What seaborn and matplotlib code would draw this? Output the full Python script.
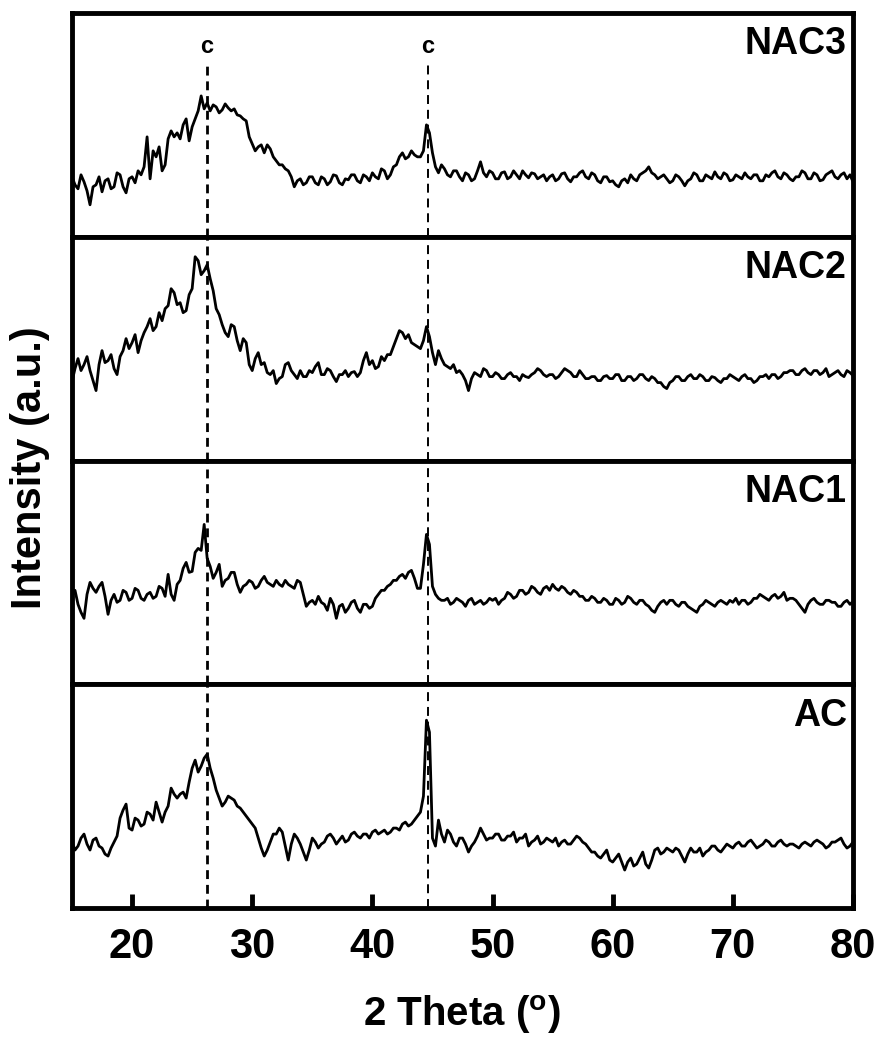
import numpy as np
import pandas as pd
import matplotlib
matplotlib.use("Agg")
import matplotlib.pyplot as plt
import seaborn as sns

# 2 theta scan grid (deg), 0.25 deg step
theta = np.linspace(15, 80, 261)

# intensities (a.u., one row = 2.5 deg)
nac3 = [60, 52, 48, 62, 55, 46, 32, 50, 52, 60,
        45, 56, 58, 48, 50, 64, 62, 50, 44, 58,
        60, 54, 66, 62, 70, 100, 58, 86, 80, 90,
        66, 72, 98, 106, 100, 104, 98, 112, 118, 96,
        110, 118, 126, 141, 128, 134, 126, 132, 130, 124,
        127, 133, 129, 126, 128, 122, 121, 118, 116, 100,
        93, 86, 90, 92, 84, 92, 88, 80, 76, 72,
        72, 68, 66, 60, 50, 56, 58, 52, 54, 60,
        60, 54, 52, 60, 58, 52, 55, 62, 61, 54,
        52, 58, 57, 62, 62, 56, 54, 62, 60, 56,
        64, 60, 58, 68, 66, 58, 62, 70, 72, 80,
        84, 78, 80, 86, 82, 80, 80, 86, 112, 104,
        84, 70, 64, 72, 68, 62, 60, 66, 66, 60,
        56, 64, 62, 56, 58, 66, 75, 64, 60, 66,
        64, 58, 58, 64, 65, 58, 60, 66, 62, 58,
        66, 62, 59, 64, 63, 58, 60, 62, 56, 60,
        62, 56, 58, 63, 64, 58, 55, 60, 60, 64,
        66, 60, 58, 64, 62, 56, 54, 60, 60, 55,
        56, 52, 50, 56, 58, 54, 62, 58, 56, 62,
        64, 66, 70, 64, 62, 58, 60, 62, 58, 54,
        56, 62, 60, 56, 51, 56, 58, 64, 62, 56,
        56, 62, 60, 58, 65, 60, 58, 64, 62, 56,
        57, 62, 60, 58, 64, 60, 58, 62, 62, 56,
        56, 62, 60, 64, 66, 60, 58, 64, 62, 58,
        56, 60, 60, 66, 64, 58, 58, 64, 62, 56,
        57, 62, 64, 66, 60, 58, 62, 64, 58, 62,
        55]

nac2 = [79, 92, 102, 90, 96, 104, 90, 80, 70, 96,
        110, 98, 100, 106, 92, 86, 104, 110, 122, 112,
        118, 126, 108, 120, 128, 134, 142, 130, 134, 148,
        140, 152, 155, 172, 168, 156, 158, 148, 150, 166,
        172, 204, 200, 186, 190, 196, 182, 170, 152, 146,
        136, 128, 124, 136, 134, 120, 110, 122, 118, 96,
        90, 102, 108, 96, 98, 88, 86, 90, 77, 82,
        84, 96, 98, 90, 86, 82, 90, 84, 84, 90,
        88, 94, 98, 86, 86, 92, 90, 84, 79, 86,
        86, 90, 84, 88, 89, 84, 88, 100, 108, 96,
        100, 92, 94, 104, 100, 106, 106, 114, 122, 130,
        128, 122, 126, 118, 116, 114, 112, 120, 134, 124,
        108, 96, 110, 102, 96, 94, 92, 96, 88, 90,
        86, 80, 70, 82, 88, 86, 84, 92, 90, 84,
        84, 88, 86, 82, 82, 86, 88, 84, 84, 80,
        86, 84, 83, 86, 88, 92, 90, 86, 84, 86,
        86, 82, 84, 88, 92, 90, 88, 84, 84, 90,
        86, 82, 82, 84, 84, 80, 80, 84, 85, 82,
        82, 86, 86, 80, 80, 84, 84, 80, 82, 86,
        86, 82, 80, 84, 82, 78, 78, 74, 72, 78,
        80, 84, 84, 80, 80, 84, 86, 82, 82, 86,
        84, 80, 80, 84, 83, 80, 78, 82, 82, 86,
        84, 82, 80, 84, 86, 82, 82, 78, 80, 84,
        84, 86, 82, 86, 86, 82, 84, 88, 88, 90,
        90, 86, 86, 90, 92, 88, 86, 90, 90, 86,
        88, 92, 84, 86, 88, 90, 86, 84, 90, 88,
        85]

nac1 = [88, 94, 80, 72, 66, 90, 102, 96, 92, 98,
        102, 88, 70, 84, 90, 82, 84, 94, 92, 84,
        86, 96, 94, 86, 84, 90, 92, 86, 88, 98,
        96, 88, 110, 90, 84, 100, 104, 116, 122, 112,
        113, 132, 136, 134, 160, 126, 118, 106, 112, 120,
        98, 104, 106, 112, 112, 100, 92, 98, 100, 104,
        102, 96, 98, 104, 108, 102, 100, 98, 104, 100,
        98, 104, 100, 98, 96, 104, 102, 90, 78, 82,
        84, 80, 88, 82, 80, 74, 86, 80, 66, 78,
        80, 72, 76, 82, 84, 76, 72, 80, 80, 76,
        78, 86, 90, 94, 94, 98, 100, 104, 104, 108,
        110, 106, 112, 114, 106, 96, 96, 120, 150, 140,
        98, 90, 86, 84, 84, 86, 80, 82, 86, 84,
        82, 78, 84, 86, 80, 82, 84, 80, 82, 86,
        84, 86, 80, 84, 86, 92, 90, 86, 88, 94,
        94, 90, 92, 98, 96, 92, 90, 96, 98, 94,
        100, 96, 94, 98, 96, 92, 90, 94, 92, 88,
        88, 84, 84, 88, 86, 82, 82, 86, 84, 80,
        80, 86, 84, 80, 82, 88, 86, 82, 80, 84,
        84, 80, 78, 74, 72, 78, 82, 84, 80, 84,
        84, 80, 78, 82, 82, 78, 76, 74, 72, 78,
        80, 84, 82, 80, 78, 82, 84, 82, 80, 84,
        82, 86, 80, 84, 84, 80, 82, 86, 86, 90,
        88, 86, 84, 88, 90, 86, 88, 92, 84, 86,
        86, 84, 80, 76, 72, 80, 84, 86, 82, 80,
        80, 84, 84, 82, 82, 78, 78, 82, 84, 80,
        83]

ac = [66, 58, 62, 70, 74, 64, 58, 68, 70, 62,
      60, 54, 52, 60, 66, 72, 90, 98, 104, 80,
      78, 90, 88, 82, 84, 96, 94, 88, 106, 96,
      86, 96, 102, 120, 114, 110, 114, 116, 110, 126,
      140, 148, 136, 142, 150, 154, 140, 130, 118, 110,
      102, 106, 112, 110, 108, 102, 100, 96, 92, 88,
      84, 80, 70, 60, 52, 58, 66, 74, 74, 80,
      76, 62, 48, 64, 74, 70, 64, 56, 48, 58,
      70, 66, 60, 64, 66, 72, 74, 70, 64, 68,
      72, 66, 68, 74, 76, 72, 70, 74, 74, 70,
      76, 78, 74, 76, 78, 74, 76, 80, 80, 78,
      84, 86, 82, 84, 88, 92, 96, 112, 188, 176,
      70, 62, 88, 74, 66, 78, 74, 66, 62, 70,
      70, 64, 56, 62, 66, 72, 80, 74, 68, 70,
      70, 74, 74, 68, 68, 72, 72, 76, 66, 70,
      70, 74, 62, 66, 68, 72, 64, 66, 70, 68,
      66, 70, 62, 66, 68, 64, 64, 68, 72, 70,
      66, 64, 60, 56, 56, 52, 50, 54, 58, 48,
      46, 50, 54, 46, 38, 46, 50, 42, 44, 50,
      56, 44, 40, 48, 58, 60, 54, 56, 60, 58,
      56, 60, 58, 52, 46, 54, 60, 56, 56, 60,
      52, 56, 58, 62, 62, 58, 56, 60, 64, 62,
      60, 64, 66, 62, 62, 66, 68, 64, 60, 62,
      64, 68, 66, 62, 62, 66, 68, 64, 62, 64,
      64, 62, 60, 64, 66, 64, 62, 66, 68, 66,
      64, 60, 62, 66, 66, 68, 70, 64, 60, 62,
      66]

samples = ["NAC3", "NAC2", "NAC1", "AC"]
series = [nac3, nac2, nac1, ac]
carbon_peaks = [26.2, 44.62]
xticks = [20, 30, 40, 50, 60, 70, 80]

sns.set_style("white", {"text.color": "black", "axes.labelcolor": "black",
                        "xtick.color": "black", "axes.edgecolor": "black"})
plt.rcParams["font.family"] = ["Liberation Sans", "DejaVu Sans"]
plt.rcParams["mathtext.fontset"] = "custom"
plt.rcParams["mathtext.rm"] = "Liberation Sans:bold"
plt.rcParams["mathtext.bf"] = "Liberation Sans:bold"

fig, axes = plt.subplots(4, 1, figsize=(8.77, 10.39), dpi=100, sharex=True)
fig.subplots_adjust(left=72/877, right=853/877, top=1-13/1039,
                    bottom=1-908/1039, hspace=0)

for i, (ax, name, vals) in enumerate(zip(axes, samples, series)):
    df = pd.DataFrame({"theta": theta, "intensity": vals})
    sns.lineplot(data=df, x="theta", y="intensity", ax=ax, color="black",
                 lw=2.0, legend=False)
    ax.set_xlim(15, 80)
    ax.set_ylim(0, 224)
    ax.set_xlabel("")
    ax.set_ylabel("")
    ax.set_yticks([])
    for sp in ax.spines.values():
        sp.set_visible(True)
        sp.set_linewidth(3.5)
        sp.set_color("black")
    ax.text(0.992, 0.94, name, transform=ax.transAxes, ha="right", va="top",
            fontsize=27, fontweight="bold", color="black")

    ymax = 0.78 if i == 0 else 1
    ax.axvline(carbon_peaks[0], ymin=0, ymax=ymax, color="black", lw=2.0,
               dashes=(3.2, 2.1))
    ax.axvline(carbon_peaks[1], ymin=0, ymax=ymax, color="black", lw=1.4,
               dashes=(4.6, 3.0))

    if i < 3:
        ax.tick_params(axis="x", bottom=False, labelbottom=False)

for xp in carbon_peaks:
    axes[0].text(xp, 0.85, "c", transform=axes[0].get_xaxis_transform(),
                 ha="center", va="center", fontsize=17, fontweight="bold",
                 color="black")

axes[-1].set_xticks(xticks)
axes[-1].tick_params(axis="x", direction="in", length=10, width=3.5,
                     pad=14, labelsize=30, bottom=True, labelbottom=True,
                     colors="black")
for lab in axes[-1].get_xticklabels():
    lab.set_fontweight("bold")

fig.text(462/877, 1-1026/1039, r"2 Theta ($^{\mathbf{o}}$)", ha="center",
         va="baseline", fontsize=29, fontweight="bold", color="black")
fig.text(30/877, 1-468/1039, "Intensity (a.u.)", rotation=90, ha="center",
         va="center", fontsize=30, fontweight="bold", color="black")

fig.savefig("out.png", dpi=100)
